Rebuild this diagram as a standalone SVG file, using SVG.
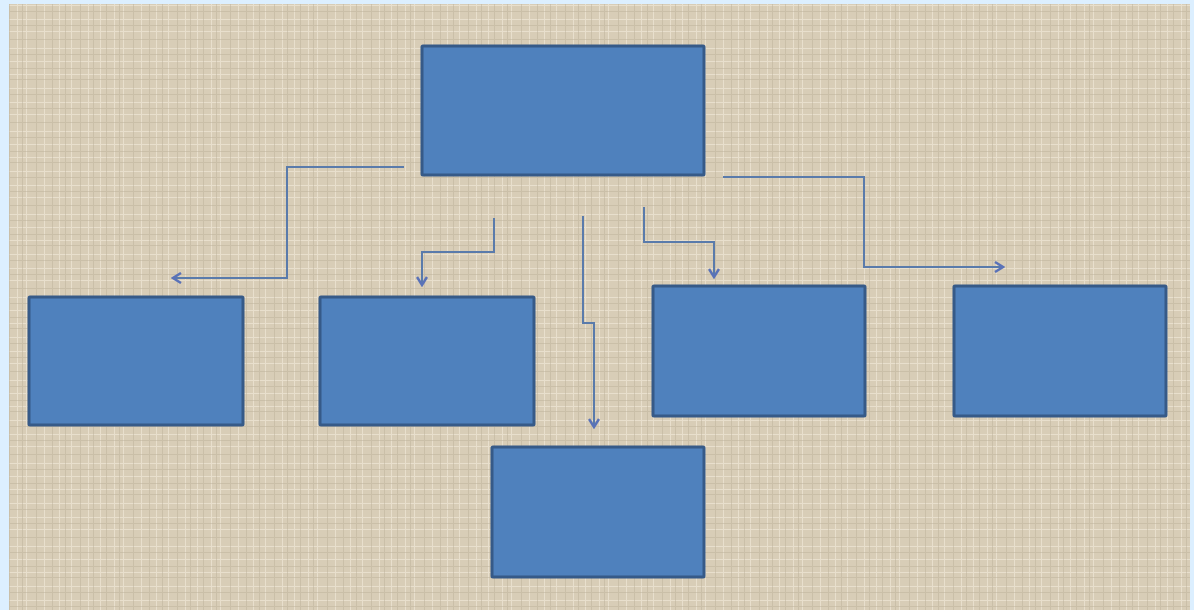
<svg xmlns="http://www.w3.org/2000/svg" width="1194" height="610" viewBox="0 0 1194 610">
  <style>
    .node { fill: #4f81bd; stroke: #365a88; stroke-width: 3; }
    .conn { fill: none; stroke: #5a7bab; stroke-width: 2; }
  </style>
  <defs>
    <pattern id="weave" width="97" height="83" patternUnits="userSpaceOnUse">
      <rect width="97" height="83" fill="#d8cdb7"/>
      <g stroke="#efe7d6" stroke-width="1" opacity="0.7">
        <line x1="3.5" y1="0" x2="3.5" y2="83"/>
        <line x1="17.5" y1="0" x2="17.5" y2="83"/>
        <line x1="26.5" y1="0" x2="26.5" y2="83"/>
        <line x1="44.5" y1="0" x2="44.5" y2="83"/>
        <line x1="59.5" y1="0" x2="59.5" y2="83"/>
        <line x1="71.5" y1="0" x2="71.5" y2="83"/>
        <line x1="88.5" y1="0" x2="88.5" y2="83"/>
        <line x1="0" y1="5.5" x2="97" y2="5.5"/>
        <line x1="0" y1="19.5" x2="97" y2="19.5"/>
        <line x1="0" y1="31.5" x2="97" y2="31.5"/>
        <line x1="0" y1="48.5" x2="97" y2="48.5"/>
        <line x1="0" y1="61.5" x2="97" y2="61.5"/>
        <line x1="0" y1="74.5" x2="97" y2="74.5"/>
      </g>
      <g stroke="#b8ac96" stroke-width="1" opacity="0.45">
        <line x1="9.5" y1="0" x2="9.5" y2="83"/>
        <line x1="22.5" y1="0" x2="22.5" y2="83"/>
        <line x1="36.5" y1="0" x2="36.5" y2="83"/>
        <line x1="52.5" y1="0" x2="52.5" y2="83"/>
        <line x1="65.5" y1="0" x2="65.5" y2="83"/>
        <line x1="80.5" y1="0" x2="80.5" y2="83"/>
        <line x1="93.5" y1="0" x2="93.5" y2="83"/>
        <line x1="0" y1="11.5" x2="97" y2="11.5"/>
        <line x1="0" y1="25.5" x2="97" y2="25.5"/>
        <line x1="0" y1="39.5" x2="97" y2="39.5"/>
        <line x1="0" y1="54.5" x2="97" y2="54.5"/>
        <line x1="0" y1="68.5" x2="97" y2="68.5"/>
        <line x1="0" y1="79.5" x2="97" y2="79.5"/>
      </g>
    </pattern>
    <marker id="chev" viewBox="0 0 12 12" refX="10" refY="6" markerWidth="12" markerHeight="12" markerUnits="userSpaceOnUse" orient="auto">
      <path d="M2,1 L10,6 L2,11" fill="none" stroke="#5a72b8" stroke-width="2.5"/>
    </marker>
  </defs>

  <rect x="0" y="0" width="1194" height="610" fill="#dcefff"/>
  <rect x="9" y="4" width="1181" height="606" fill="url(#weave)"/>

  <g id="connectors">
    <polyline class="conn" points="404,167 287,167 287,278 173,278" marker-end="url(#chev)"/>
    <polyline class="conn" points="494,218 494,252 422,252 422,285" marker-end="url(#chev)"/>
    <polyline class="conn" points="583,216 583,323 594,323 594,427" marker-end="url(#chev)"/>
    <polyline class="conn" points="644,207 644,242 714,242 714,277" marker-end="url(#chev)"/>
    <polyline class="conn" points="723,177 864,177 864,267 1003,267" marker-end="url(#chev)"/>
  </g>

  <g id="node-top"><rect class="node" x="422" y="46" width="282" height="129" rx="1"/></g>
  <g id="node-1"><rect class="node" x="29" y="297" width="214" height="128" rx="1"/></g>
  <g id="node-2"><rect class="node" x="320" y="297" width="214" height="128" rx="1"/></g>
  <g id="node-3"><rect class="node" x="492" y="447" width="212" height="130" rx="1"/></g>
  <g id="node-4"><rect class="node" x="653" y="286" width="212" height="130" rx="1"/></g>
  <g id="node-5"><rect class="node" x="954" y="286" width="212" height="130" rx="1"/></g>
</svg>
